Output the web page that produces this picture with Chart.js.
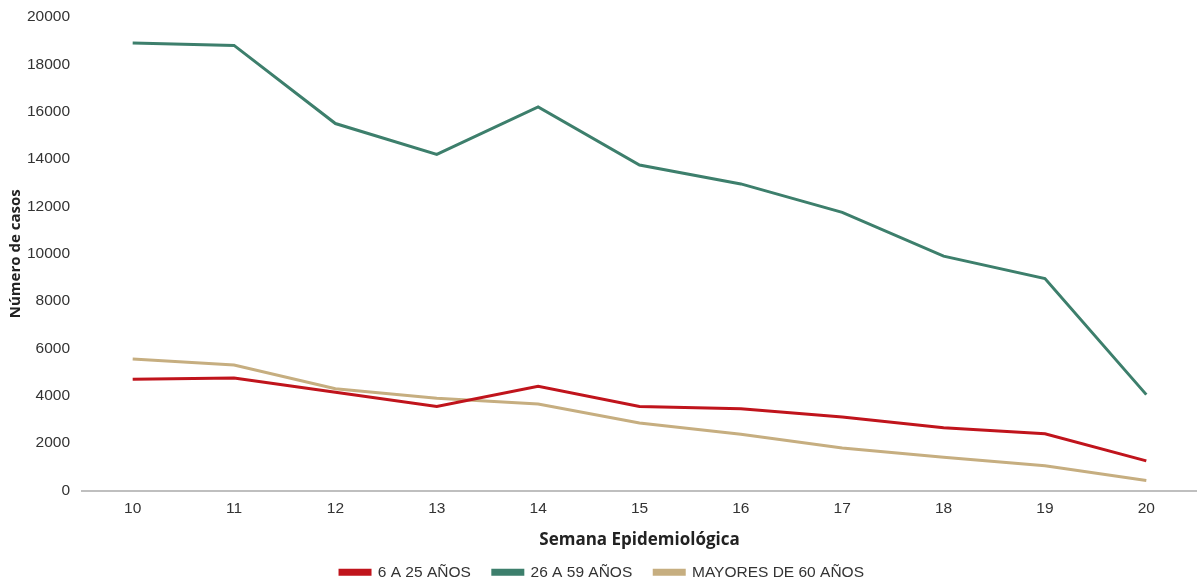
<!DOCTYPE html>
<html>
<head>
<meta charset="utf-8">
<script src="https://cdn.jsdelivr.net/npm/chart.js@4/dist/chart.umd.min.js"></script>
<style>
  html, body { margin: 0; padding: 0; background: #ffffff; }
  #wrap { width: 1197px; height: 584px; position: relative; }
</style>
</head>
<body>
<div id="wrap"><canvas id="chart"></canvas></div>
<script>
// Semanas epidemiológicas
const semanas = ['10', '11', '12', '13', '14', '15', '16', '17', '18', '19', '20'];

// Casos por grupo de edad
const casos6a25 = [4700, 4750, 4150, 3550, 4400, 3550, 3450, 3100, 2650, 2400, 1250];
const casos26a59 = [18900, 18800, 15500, 14200, 16200, 13750, 12950, 11750, 9900, 8950, 4050];
const casosMayores60 = [5550, 5300, 4300, 3900, 3650, 2850, 2380, 1800, 1400, 1050, 420];

const etiquetas = ['6 A 25 AÑOS', '26 A 59 AÑOS', 'MAYORES DE 60 AÑOS'];
const colores = ['#c0141c', '#3d7f6c', '#c6ae80'];

const tickFont = { family: 'Liberation Sans, Arial, sans-serif', size: 15.5 };
const titleFamily = 'Open Sans, sans-serif';

function serie(label, data, color) {
  return {
    label: label,
    data: data,
    borderColor: color,
    backgroundColor: color,
    borderWidth: 3,
    pointRadius: 0,
    pointHoverRadius: 0,
    tension: 0,
    fill: false
  };
}

new Chart(document.getElementById('chart'), {
  type: 'line',
  data: {
    labels: semanas,
    datasets: [
      serie(etiquetas[0], casos6a25, colores[0]),
      serie(etiquetas[1], casos26a59, colores[1]),
      serie(etiquetas[2], casosMayores60, colores[2])
    ]
  },
  options: {
    responsive: true,
    maintainAspectRatio: false,
    animation: false,
    layout: { autoPadding: false, padding: { top: 17, right: 0, left: 7, bottom: -6 } },
    plugins: {
      tooltip: { enabled: false },
      legend: {
        position: 'bottom',
        labels: {
          color: '#333333',
          font: tickFont,
          boxWidth: 30,
          boxHeight: 4,
          padding: 22
        }
      }
    },
    scales: {
      x: {
        offset: true,
        grid: { display: false, drawTicks: false },
        border: { display: true, color: '#bfbfbf', width: 2 },
        ticks: { color: '#333333', font: tickFont, padding: 9 },
        title: {
          display: true,
          text: 'Semana Epidemiológica',
          color: '#222222',
          font: { family: titleFamily, size: 17, weight: 'bold' },
          padding: { top: 3, bottom: -8 }
        }
      },
      y: {
        min: 0,
        max: 20000,
        grid: { display: false, drawTicks: false },
        border: { display: false },
        afterFit: (scale) => {
          scale.width = 75;
          scale.paddingTop = 0;
          scale.paddingBottom = 0;
        },
        ticks: {
          stepSize: 2000,
          color: '#333333',
          font: tickFont,
          padding: 12,
          callback: (v) => String(v)
        },
        title: {
          display: true,
          text: 'Número de casos',
          color: '#222222',
          font: { family: titleFamily, size: 15, weight: 'bold' },
          padding: { top: 0, bottom: 2 }
        }
      }
    }
  }
});
</script>
</body>
</html>
